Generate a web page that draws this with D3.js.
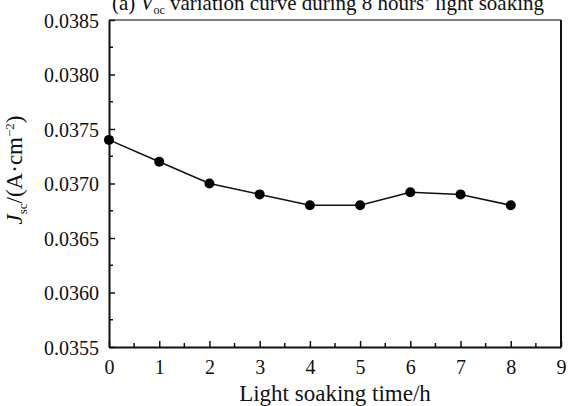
<!DOCTYPE html>
<html>
<head>
<meta charset="utf-8">
<script src="https://cdn.jsdelivr.net/npm/d3@7"></script>
<style>
  body { margin: 0; background: #fff; }
  text { font-family: "Liberation Serif", "Times New Roman", serif; fill: #111; }
</style>
</head>
<body>
<svg id="chart" width="568" height="406"></svg>
<script>
const hours = [0, 1, 2, 3, 4, 5, 6, 7, 8];
const jsc = [0.0374, 0.0372, 0.0370, 0.0369, 0.0368, 0.0368, 0.03692, 0.0369, 0.0368];
const xTicks = [0, 1, 2, 3, 4, 5, 6, 7, 8, 9];
const yTicks = [0.0355, 0.0360, 0.0365, 0.0370, 0.0375, 0.0380, 0.0385];

const plotL = 109, plotR = 561, plotT = 20, plotB = 347;

const svg = d3.select('#chart');

const x = d3.scaleLinear().domain([0, 9]).range([plotL, plotR]);
const y = d3.scaleLinear().domain([0.0355, 0.0385]).range([plotB, plotT]);

// frame: top lighter grey, right black
svg.append('line')
  .attr('x1', plotL).attr('x2', plotR).attr('y1', plotT).attr('y2', plotT)
  .style('stroke', '#555').style('stroke-width', 1.5);
svg.append('line')
  .attr('x1', plotR).attr('x2', plotR).attr('y1', plotT).attr('y2', plotB)
  .style('stroke', '#111').style('stroke-width', 2);

// minor ticks
const xMinor = d3.range(0.5, 9, 1);
const yMinor = d3.range(0.03575, 0.0385, 0.0005);

const xAxis = svg.append('g')
  .attr('transform', `translate(0,${plotB})`)
  .call(d3.axisBottom(x).tickValues(xTicks).tickFormat(d3.format('d')).tickSizeInner(-6).tickSizeOuter(0).tickPadding(13));
xAxis.append('g').selectAll('line')
  .data(xMinor)
  .enter()
  .append('line')
  .attr('x1', d => x(d)).attr('x2', d => x(d))
  .attr('y1', 0).attr('y2', -4)
  .style('stroke', '#111').style('stroke-width', 1.5);

const yAxis = svg.append('g')
  .attr('transform', `translate(${plotL},0)`)
  .call(d3.axisLeft(y).tickValues(yTicks).tickFormat(d3.format('.4f')).tickSizeInner(-6).tickSizeOuter(0).tickPadding(10));
yAxis.append('g').selectAll('line')
  .data(yMinor)
  .enter()
  .append('line')
  .attr('y1', d => y(d)).attr('y2', d => y(d))
  .attr('x1', 0).attr('x2', 4)
  .style('stroke', '#111').style('stroke-width', 1.5);

svg.selectAll('g').attr('font-family', null).attr('font-size', null);
svg.selectAll('.domain').style('stroke', '#111').style('stroke-width', 2);
svg.selectAll('.tick line').style('stroke', '#111').style('stroke-width', 1.5);
svg.selectAll('.tick text')
  .style('font-family', 'Liberation Serif')
  .style('font-size', '20px')
  .style('fill', '#111');
xAxis.selectAll('.tick text').attr('dy', '0.71em');
yAxis.selectAll('.tick text').attr('dy', '0.35em');

// line + markers
const line = d3.line()
  .x((d, i) => x(hours[i]))
  .y(d => y(d));

svg.append('path')
  .datum(jsc)
  .attr('d', line)
  .style('fill', 'none')
  .style('stroke', '#111')
  .style('stroke-width', 1.5);

svg.selectAll('circle.pt')
  .data(jsc)
  .enter()
  .append('circle')
  .classed('pt', true)
  .attr('cx', (d, i) => x(hours[i]))
  .attr('cy', d => y(d))
  .attr('r', 5)
  .style('fill', '#000');

// title (top edge cut like the original)
const title = svg.append('text')
  .attr('x', 112)
  .attr('y', 10)
  .style('font-size', '21px');
title.append('tspan').text('(a) ');
title.append('tspan').text('V').style('font-style', 'italic');
title.append('tspan').text('oc').attr('dy', 4).style('font-size', '12px');
title.append('tspan').text(' variation curve during 8 hours’ light soaking').attr('dy', -4);

// x label
svg.append('text')
  .attr('x', x(4.5))
  .attr('y', 401)
  .attr('text-anchor', 'middle')
  .style('font-size', '23px')
  .text('Light soaking time/h');

// y label
const yl = svg.append('text')
  .attr('transform', 'translate(22,170) rotate(-90)')
  .attr('text-anchor', 'middle')
  .style('font-size', '23px');
yl.append('tspan').text('J').style('font-style', 'italic');
yl.append('tspan').text('sc').attr('dy', 5).style('font-size', '13px');
yl.append('tspan').text('/(A·cm').attr('dy', -5);
yl.append('tspan').text('−2').attr('dy', -8).style('font-size', '13px');
yl.append('tspan').text(')').attr('dy', 8);
</script>
</body>
</html>
